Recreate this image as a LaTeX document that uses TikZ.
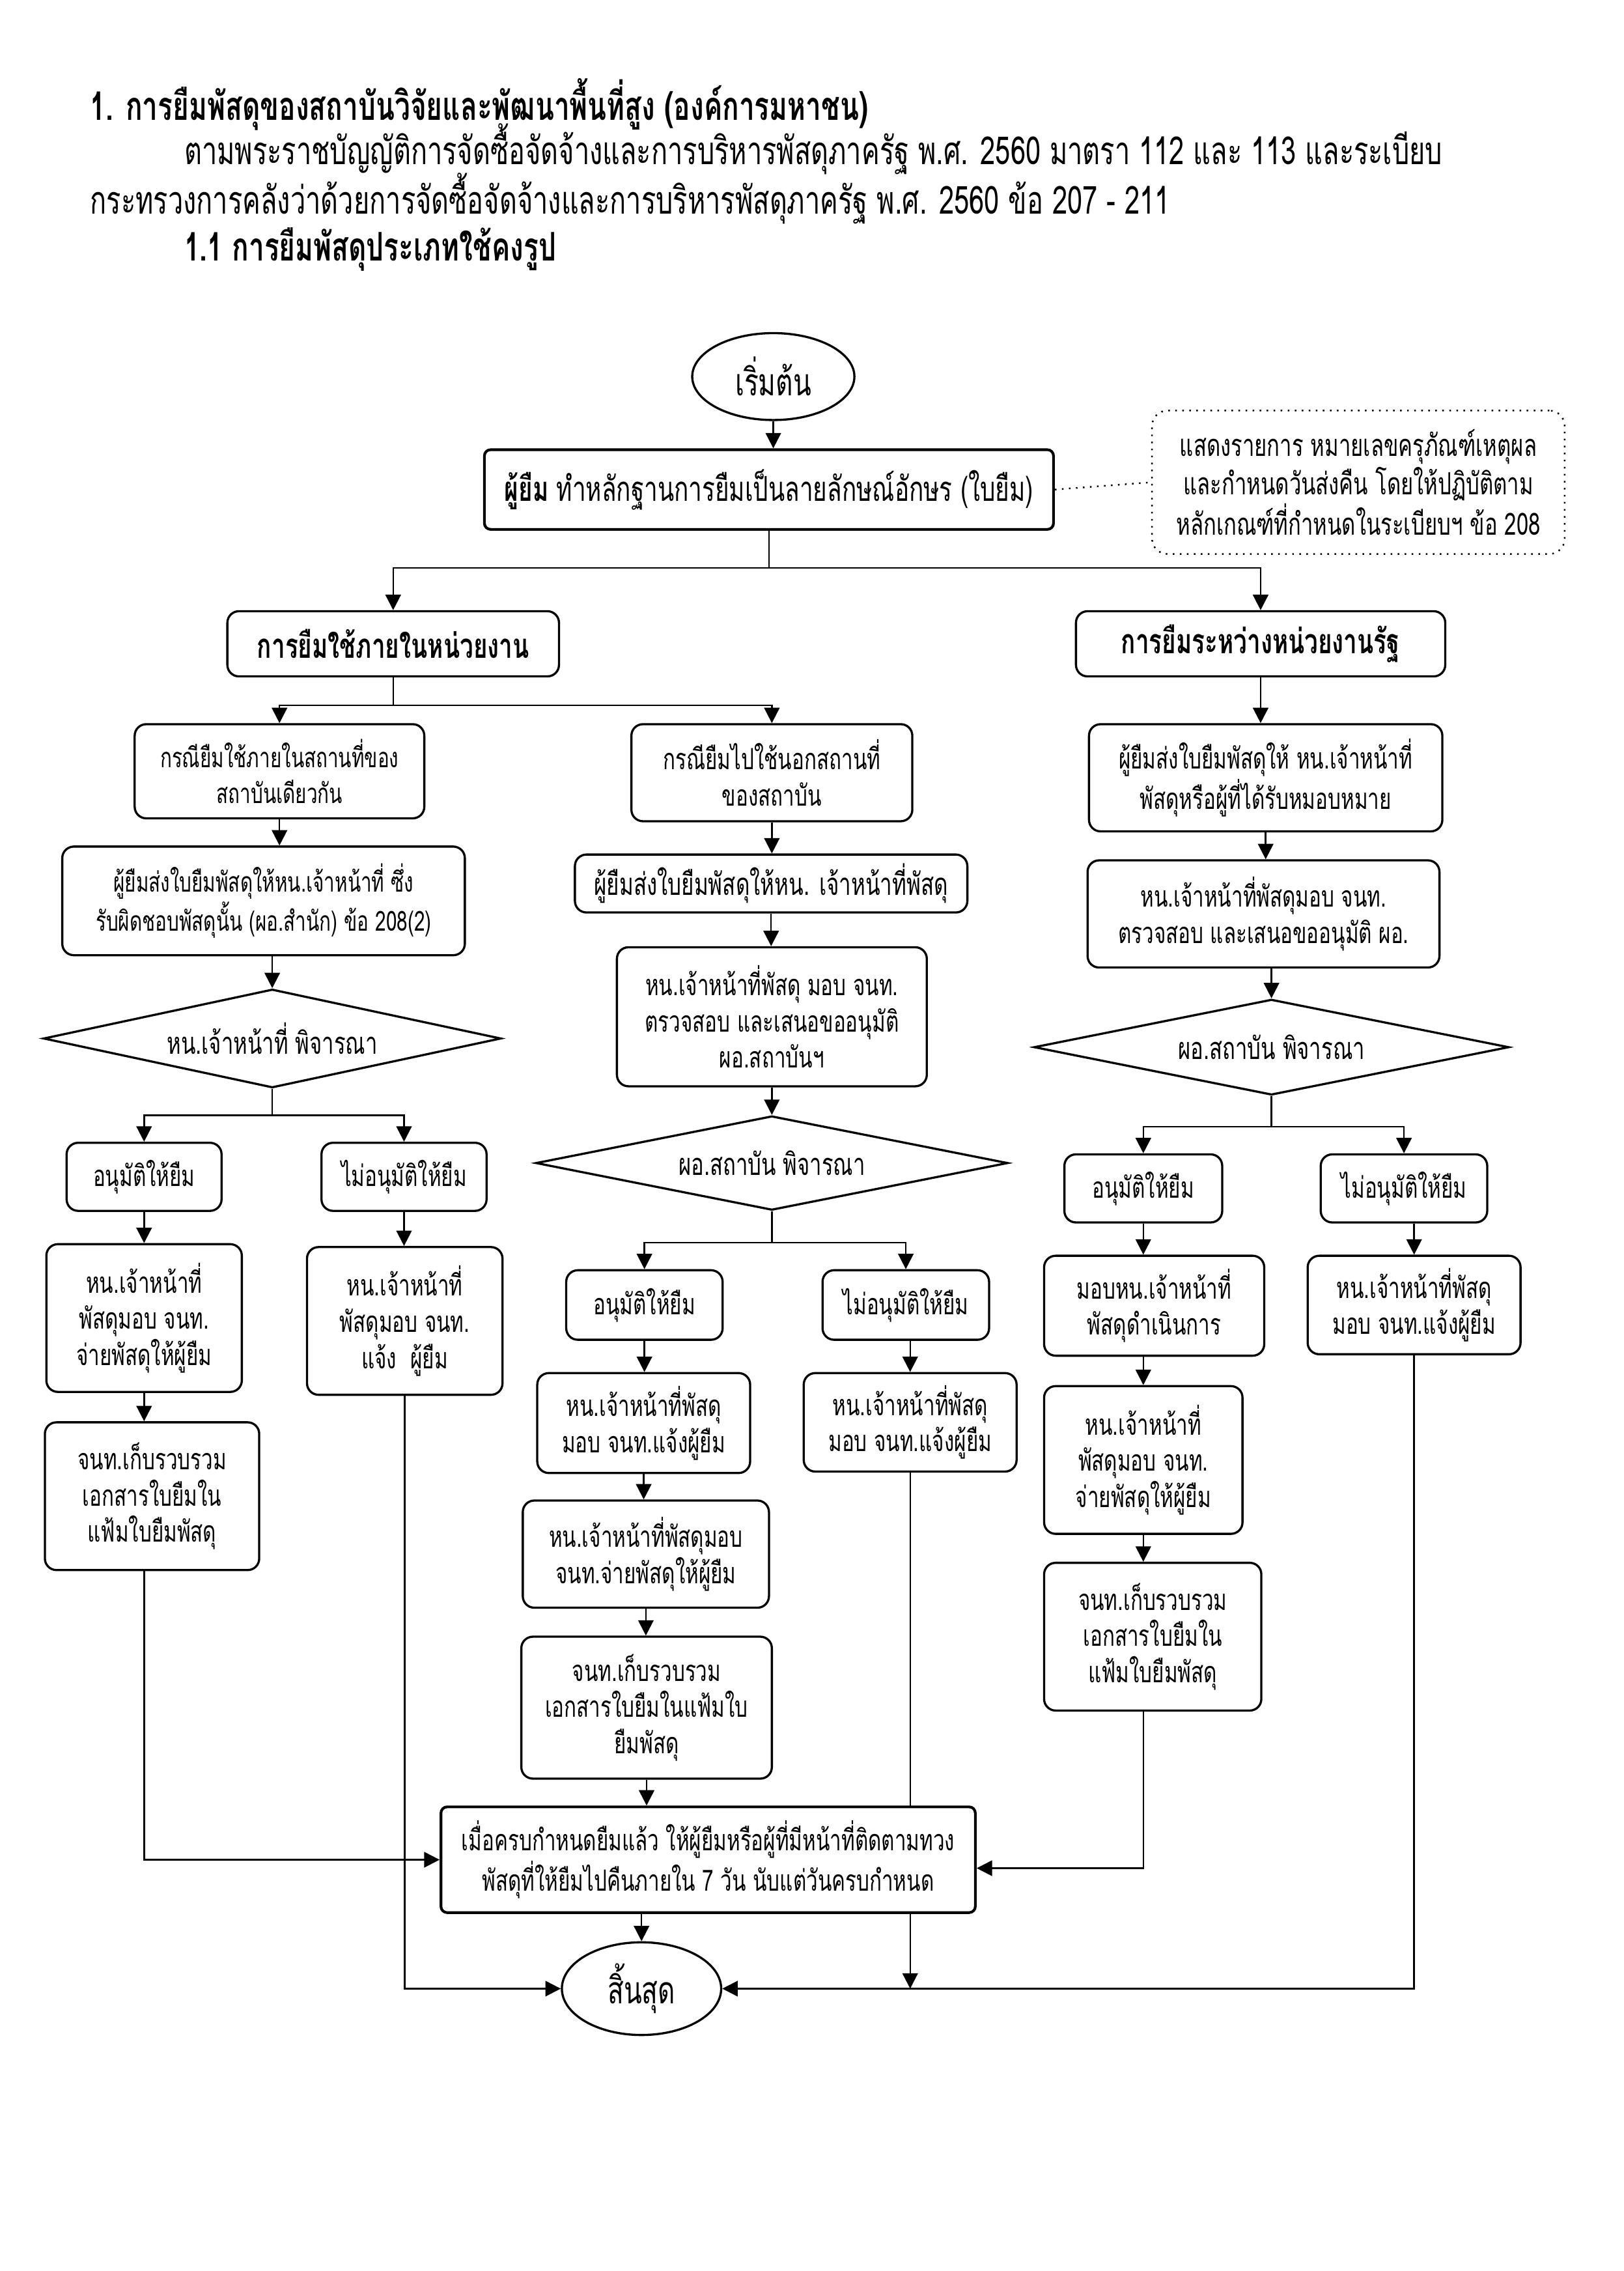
\documentclass[tikz,border=0pt]{standalone}
\usepackage{fontspec}
\setmainfont[Script=Thai, FakeStretch=0.7]{Loma}
\usetikzlibrary{arrows.meta,shapes.geometric,backgrounds}
\begin{document}
\begin{tikzpicture}[x=0.018823cm,y=-0.018823cm,
  sz/.style 2 args={minimum width=#1*0.018823cm, minimum height=#2*0.018823cm},
  box/.style={draw, line width=0.8pt, rounded corners=0.15cm, fill=white, align=center, inner sep=1pt,
     font=\fontsize{10.8pt}{13.4pt}\selectfont},
  smallbox/.style={box, font=\fontsize{10.2pt}{13.4pt}\selectfont},
  mainbox/.style={box, line width=1pt, rounded corners=0.08cm},
  headbox/.style={box, font=\bfseries\fontsize{12.7pt}{14pt}\selectfont},
  decision/.style={draw, diamond, aspect=4.7, line width=0.8pt, fill=white, inner sep=0pt, align=center,
     font=\fontsize{11.3pt}{13.4pt}\selectfont},
  term/.style={draw, ellipse, line width=0.8pt, fill=white, inner sep=0pt,
     font=\fontsize{14pt}{16pt}\selectfont},
  notebox/.style={draw, dotted, line width=0.6pt, rounded corners=0.2cm, fill=white, align=center, inner sep=1pt,
     font=\fontsize{11.3pt}{12.8pt}\selectfont},
  arr/.style={line width=0.6pt, -{Triangle[length=0.2cm,width=0.2cm]}},
  ln/.style={line width=0.6pt},
  hdr/.style={anchor=west, inner sep=0pt, font=\fontsize{14.3pt}{16pt}\selectfont},
  hdrb/.style={hdr, font=\bfseries\fontsize{14.6pt}{16pt}\selectfont}
]
\useasboundingbox (0,0) rectangle (1121,1567.96);

% header text
\node[hdrb] (t1) at (62,72) {1. การยืมพัสดุของสถาบันวิจัยและพัฒนาพื้นที่สูง (องค์การมหาชน)};
\node[hdr] (t2) at (127,103) {ตามพระราชบัญญัติการจัดซื้อจัดจ้างและการบริหารพัสดุภาครัฐ พ.ศ. 2560 มาตรา 112 และ 113 และระเบียบ};
\node[hdr] (t3) at (62,137) {กระทรวงการคลังว่าด้วยการจัดซื้อจัดจ้างและการบริหารพัสดุภาครัฐ พ.ศ. 2560 ข้อ 207 - 211};
\node[hdrb] (t4) at (127,172) {1.1 การยืมพัสดุประเภทใช้คงรูป};

% top
\node[term, sz={112}{60}] (start) at (534,260) {เริ่มต้น};
\node[mainbox, sz={393}{55}, font=\fontsize{12.7pt}{14pt}\selectfont] (b0) at (531,338) {\textbf{ผู้ยืม} ทำหลักฐานการยืมเป็นลายลักษณ์อักษร (ใบยืม)};
\node[notebox, sz={285}{99}] (note) at (938,333) {แสดงรายการ หมายเลขครุภัณฑ์เหตุผล\\และกำหนดวันส่งคืน โดยให้ปฏิบัติตาม\\หลักเกณฑ์ที่กำหนดในระเบียบฯ ข้อ 208};
\node[headbox, sz={229}{45}] (hL) at (271.5,444.5) {การยืมใช้ภายในหน่วยงาน};
\node[headbox, sz={255}{45}] (hR) at (870.5,444.5) {การยืมระหว่างหน่วยงานรัฐ};

% left column
\node[smallbox, sz={200}{65}] (a1) at (193,532.5) {กรณียืมใช้ภายในสถานที่ของ\\สถาบันเดียวกัน};
\node[smallbox, sz={278}{75}] (a2) at (182,622) {ผู้ยืมส่งใบยืมพัสดุให้หน.เจ้าหน้าที่ ซึ่ง\\รับผิดชอบพัสดุนั้น (ผอ.สำนัก) ข้อ 208(2)};
\node[decision, sz={316}{68}] (ad) at (188,717) {หน.เจ้าหน้าที่ พิจารณา};
\node[box, sz={107}{47}] (aY) at (99.5,812.5) {อนุมัติให้ยืม};
\node[box, sz={114}{47}] (aN) at (279,812.5) {ไม่อนุมัติให้ยืม};
\node[box, sz={135}{102}] (aY1) at (99.5,910) {หน.เจ้าหน้าที่\\พัสดุมอบ จนท.\\จ่ายพัสดุให้ผู้ยืม};
\node[box, sz={135}{102}] (aN1) at (279.5,912) {หน.เจ้าหน้าที่\\พัสดุมอบ จนท.\\แจ้ง\ \ ผู้ยืม};
\node[box, sz={148}{102}] (aY2) at (105,1033) {จนท.เก็บรวบรวม\\เอกสารใบยืมใน\\แฟ้มใบยืมพัสดุ};

% middle column
\node[box, sz={194}{67}] (m1) at (533,533.5) {กรณียืมไปใช้นอกสถานที่\\ของสถาบัน};
\node[box, sz={271}{40}, font=\fontsize{11.4pt}{13.4pt}\selectfont] (m2) at (532.5,610) {ผู้ยืมส่งใบยืมพัสดุให้หน. เจ้าหน้าที่พัสดุ};
\node[box, sz={214}{96}] (m3) at (533,702) {หน.เจ้าหน้าที่พัสดุ มอบ จนท.\\ตรวจสอบ และเสนอขออนุมัติ\\ผอ.สถาบันฯ};
\node[decision, sz={326}{65}] (md) at (533,803) {ผอ.สถาบัน พิจารณา};
\node[box, sz={108}{48}] (mY) at (445,901) {อนุมัติให้ยืม};
\node[box, sz={115}{48}] (mN) at (625.5,901) {ไม่อนุมัติให้ยืม};
\node[box, sz={147}{69}] (mY1) at (444.5,982.5) {หน.เจ้าหน้าที่พัสดุ\\มอบ จนท.แจ้งผู้ยืม};
\node[box, sz={147}{68}] (mN1) at (628.5,982) {หน.เจ้าหน้าที่พัสดุ\\มอบ จนท.แจ้งผู้ยืม};
\node[box, sz={170}{74}] (mY2) at (446,1073) {หน.เจ้าหน้าที่พัสดุมอบ\\จนท.จ่ายพัสดุให้ผู้ยืม};
\node[box, sz={173}{98}] (mY3) at (446.5,1179) {จนท.เก็บรวบรวม\\เอกสารใบยืมในแฟ้มใบ\\ยืมพัสดุ};
\node[mainbox, sz={369}{73}] (mg) at (489,1284) {เมื่อครบกำหนดยืมแล้ว ให้ผู้ยืมหรือผู้ที่มีหน้าที่ติดตามทวง\\พัสดุที่ให้ยืมไปคืนภายใน 7 วัน นับแต่วันครบกำหนด};
\node[term, sz={110}{64}] (end) at (443,1373) {สิ้นสุด};

% right column
\node[box, sz={244}{74}] (r1) at (874,537) {ผู้ยืมส่งใบยืมพัสดุให้ หน.เจ้าหน้าที่\\พัสดุหรือผู้ที่ได้รับหมอบหมาย};
\node[box, sz={243}{74}] (r2) at (872.5,631) {หน.เจ้าหน้าที่พัสดุมอบ จนท.\\ตรวจสอบ และเสนอขออนุมัติ ผอ.};
\node[decision, sz={328}{66}] (rd) at (878,723) {ผอ.สถาบัน พิจารณา};
\node[box, sz={109}{47}] (rY) at (789.5,820.5) {อนุมัติให้ยืม};
\node[box, sz={115}{47}] (rN) at (969.5,820.5) {ไม่อนุมัติให้ยืม};
\node[box, sz={152}{69}] (rY1) at (797,901.5) {มอบหน.เจ้าหน้าที่\\พัสดุดำเนินการ};
\node[box, sz={147}{68}] (rN1) at (976.5,901) {หน.เจ้าหน้าที่พัสดุ\\มอบ จนท.แจ้งผู้ยืม};
\node[box, sz={137}{102}] (rY2) at (789.5,1008) {หน.เจ้าหน้าที่\\พัสดุมอบ จนท.\\จ่ายพัสดุให้ผู้ยืม};
\node[box, sz={150}{102}] (rY3) at (796,1130) {จนท.เก็บรวบรวม\\เอกสารใบยืมใน\\แฟ้มใบยืมพัสดุ};

% junctions
\coordinate (jT) at (531,392);
\coordinate (jL) at (271.5,487);
\coordinate (jA) at (188,770);
\coordinate (jM) at (533,858);
\coordinate (jR) at (878,778);

\begin{pgfonlayer}{background}
\draw[arr] (start.south) -- (start.south |- b0.north);
\draw[ln, dotted] (b0.east) -- (note.west);
\draw[ln] (b0.south) -- (jT);
\draw[arr] (jT) -| (hL.north);
\draw[arr] (jT) -| (hR.north);
% left
\draw[ln] (hL.south) -- (jL);
\draw[arr] (jL) -| (a1.north);
\draw[arr] (jL) -| (m1.north);
\draw[arr] (a1.south) -- (a1.south |- a2.north);
\draw[arr] (ad.north |- a2.south) -- (ad.north);
\draw[ln] (ad.south) -- (jA);
\draw[arr] (jA) -| (aY.north);
\draw[arr] (jA) -| (aN.north);
\draw[arr] (aY.south) -- (aY.south |- aY1.north);
\draw[arr] (aN.south) -- (aN.south |- aN1.north);
\draw[arr] (aY1.south) -- (aY1.south |- aY2.north);
\draw[arr] (aY1.south |- aY2.south) |- (mg.west);
\draw[arr] (aN1.south) |- (end.west);
% middle
\draw[arr] (m1.south) -- (m1.south |- m2.north);
\draw[arr] (m2.south) -- (m2.south |- m3.north);
\draw[arr] (m3.south) -- (m3.south |- md.north);
\draw[ln] (md.south) -- (jM);
\draw[arr] (jM) -| (mY.north);
\draw[arr] (jM) -| (mN.north);
\draw[arr] (mY.south) -- (mY.south |- mY1.north);
\draw[arr] (mN.south -| mN1.north) -- (mN1.north);
\draw[arr] (mY1.south) -- (mY1.south |- mY2.north);
\draw[arr] (mY2.south) -- (mY2.south |- mY3.north);
\draw[arr] (mY3.south) -- (mY3.south |- mg.north);
\draw[arr] (end.north |- mg.south) -- (end.north);
\draw[arr] (mN1.south) -- (mN1.south |- end.east);
% right
\draw[arr] (hR.south) -- (hR.south |- r1.north);
\draw[arr] (r1.south) -- (r1.south |- r2.north);
\draw[arr] (rd.north |- r2.south) -- (rd.north);
\draw[ln] (rd.south) -- (jR);
\draw[arr] (jR) -| (rY.north);
\draw[arr] (jR) -| (rN.north);
\draw[arr] (rY.south) -- (rY.south |- rY1.north);
\draw[arr] (rN.south -| rN1.north) -- (rN1.north);
\draw[arr] (rY1.south -| rY.south) -- (rY.south |- rY2.north);
\draw[arr] (rY2.south -| rY.south) -- (rY.south |- rY3.north);
\draw[arr] (rY3.south -| rY.south) |- ([yshift=-0.11cm]mg.east);
\draw[arr] (rN1.south) |- (end.east);
\end{pgfonlayer}
\end{tikzpicture}
\end{document}
